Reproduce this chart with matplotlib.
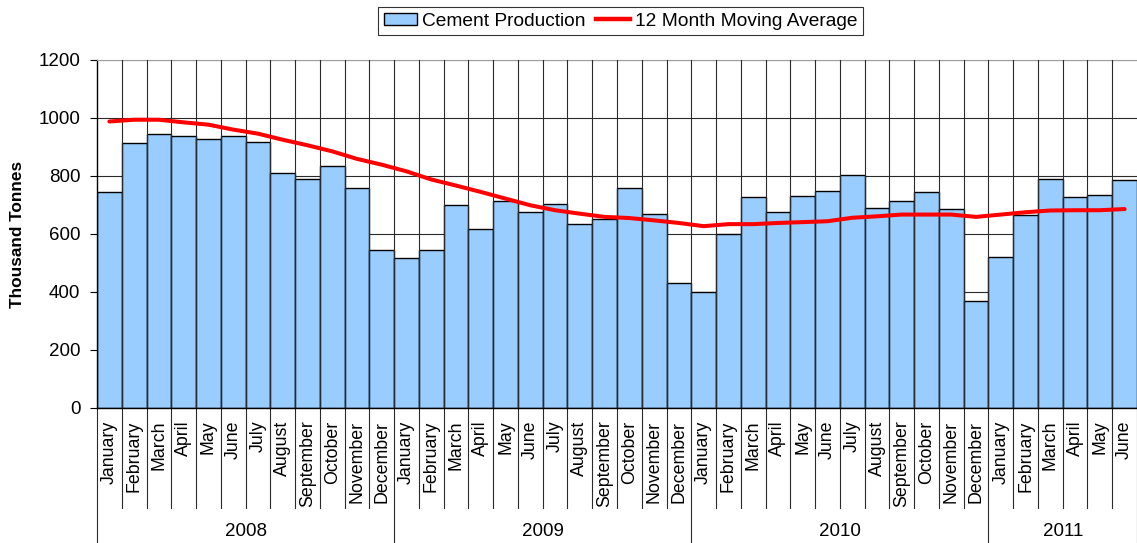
"""
plot.py
-------
Monthly cement production (bars) with its 12 month moving average (line),
January 2008 - June 2011, month / year two-level category axis.
"""

import numpy as np
import matplotlib
matplotlib.use("Agg")
import matplotlib.pyplot as plt
from matplotlib.patches import Patch
from matplotlib.lines import Line2D


# ── Chart data ────────────────────────────────────────────────────────────────
months = ["January", "February", "March", "April", "May", "June", "July",
          "August", "September", "October", "November", "December"]
years = ["2008", "2009", "2010", "2011"]
months_per_year = [12, 12, 12, 6]
month_labels = [m for n in months_per_year for m in months[:n]]

production = [744, 914, 946, 937, 929, 937, 918, 811, 789, 834, 757, 544,
              517, 544, 699, 617, 713, 676, 704, 636, 653, 759, 668, 432,
              401, 600, 727, 676, 731, 749, 803, 690, 713, 744, 685, 369,
              522, 667, 790, 726, 735, 785]

moving_avg = [988, 994, 994, 985, 977, 960, 946, 925, 906, 885, 859, 839,
              816, 788, 767, 745, 722, 699, 682, 670, 659, 655, 647, 638,
              627, 634, 634, 638, 641, 644, 656, 661, 667, 667, 667, 659,
              667, 675, 681, 682, 682, 686]

y_ticks = [0, 200, 400, 600, 800, 1000, 1200]
series_labels = ["Cement Production", "12 Month Moving Average"]

# ── Style ─────────────────────────────────────────────────────────────────────
BAR_COLOR  = "#99CCFF"
LINE_COLOR = "#FF0000"
GRID_COLOR = "#2a2a2a"

plt.rcParams["font.family"] = ["Liberation Sans", "DejaVu Sans"]

W, H = 1137, 543
fig = plt.figure(figsize=(W / 100, H / 100), dpi=100)
ax = fig.add_axes([97 / W, 135 / H, 1040 / W, 348 / H])

# ── Marks ─────────────────────────────────────────────────────────────────────
x = np.arange(len(production))
ax.bar(x, production, width=1.0, color=BAR_COLOR, edgecolor="black",
       linewidth=1.0, zorder=2)
ax.plot(x, moving_avg, color=LINE_COLOR, linewidth=2.9, zorder=5,
        solid_capstyle="round")

ax.set_xlim(-0.5, len(x) - 0.5)
ax.set_ylim(y_ticks[0], y_ticks[-1])

# gridlines: horizontal behind bars, vertical at every month boundary
for v in y_ticks[1:]:
    ax.axhline(v, color=GRID_COLOR, linewidth=0.8, zorder=1)
for b in x[1:] - 0.5:
    ax.axvline(b, color=GRID_COLOR, linewidth=0.8, zorder=3)

# ── Axes styling ──────────────────────────────────────────────────────────────
ax.set_yticks(y_ticks)
ax.set_xticks([])
ax.tick_params(axis="y", direction="out", length=5, width=0.8, pad=7,
               labelsize=13.5, colors="black")
for side in ("left", "bottom"):
    ax.spines[side].set_color("black")
    ax.spines[side].set_linewidth(1.0)
ax.spines["top"].set_color("#a0a0a0")
ax.spines["right"].set_visible(False)

fig.text(18 / W, 1 - 234 / H, "Thousand Tonnes", rotation=90,
         ha="center", va="center", fontsize=12.4, fontweight="bold")

# ── Two-level category axis ───────────────────────────────────────────────────
trans = ax.get_xaxis_transform()
year_edges = np.concatenate([[0], np.cumsum(months_per_year)]) - 0.5

for b in np.arange(len(x) + 1) - 0.5:
    depth = -0.40 if b in year_edges else -0.287
    ax.plot([b, b], [0, depth], transform=trans, clip_on=False,
            color=GRID_COLOR, linewidth=0.8)

for i, label in enumerate(month_labels):
    ax.text(i, -0.036, label, transform=trans, rotation=90,
            ha="center", va="top", fontsize=12.8)

for k, year in enumerate(years):
    centre = (year_edges[k] + year_edges[k + 1]) / 2
    ax.text(centre, -0.355, year, transform=trans,
            ha="center", va="center", fontsize=13.5)

# ── Legend ────────────────────────────────────────────────────────────────────
handles = [Patch(facecolor=BAR_COLOR, edgecolor="black", linewidth=1.0),
           Line2D([], [], color=LINE_COLOR, linewidth=3.2)]
leg = fig.legend(handles, series_labels, loc="center",
                 bbox_to_anchor=(620.5 / W, 1 - 21 / H), ncol=2,
                 fontsize=13.8, frameon=True, fancybox=False,
                 edgecolor="black", handlelength=1.75, handleheight=0.6,
                 handletextpad=0.27, columnspacing=0.55, borderpad=0.3,
                 borderaxespad=0)
leg.get_frame().set_linewidth(0.8)

fig.savefig("out.png", dpi=100)
